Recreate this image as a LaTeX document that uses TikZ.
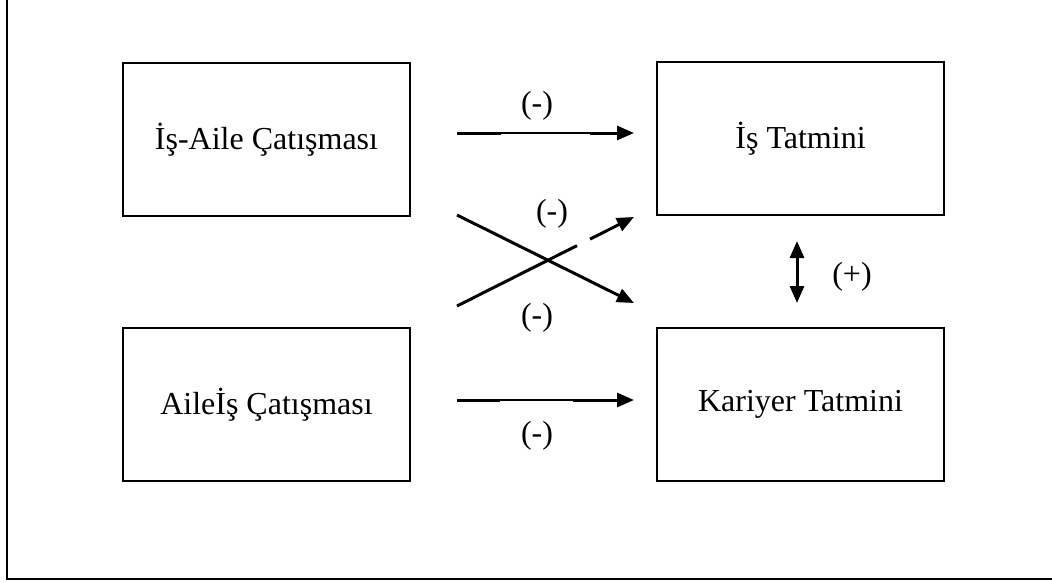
\documentclass[tikz,border=0pt]{standalone}
\usepackage{fontspec}
\setmainfont{Liberation Serif}
\usetikzlibrary{arrows.meta}
\tikzset{
  boxnode/.style={draw, line width=1.5pt, minimum width=287pt, minimum height=153pt, inner sep=0pt, font=\fontsize{32}{36}\selectfont},
  lbl/.style={inner sep=0pt, font=\fontsize{32}{36}\selectfont},
  thickln/.style={line width=3pt},
  thinln/.style={line width=1.3pt},
  tip/.style={-{Triangle[length=17pt,width=14pt]}},
  frameln/.style={line width=2.4pt}
}
\begin{document}
\begin{tikzpicture}[x=1pt,y=-1pt]
\useasboundingbox (0,0) rectangle (1052,582);
% outer frame (only left and bottom sides visible)
\draw[frameln] (7,-5) -- (7,579) -- (1060,579);
% boxes
\node[boxnode] (ia) at (266.5,139.5) {İş-Aile Çatışması};
\node[boxnode] (ai) at (266.5,404.5) {Aileİş Çatışması};
\node[boxnode] (it) at (800.5,138.5) {İş Tatmini};
\node[boxnode] (kt) at (800.5,404.5) {Kariyer Tatmini};
% coordinates for connectors
\coordinate (t1) at (457,133);
\coordinate (t2) at (501,133);
\coordinate (t3) at (590,133);
\coordinate (t4) at (634,133);
\coordinate (b1) at (457,400);
\coordinate (b2) at (500,400);
\coordinate (b3) at (573,400);
\coordinate (b4) at (634,400);
\coordinate (d1) at (457,215);
\coordinate (d2) at (634,303);
\coordinate (u1) at (457,306);
\coordinate (u2) at (577,245.6);
\coordinate (u3) at (590,239.1);
\coordinate (u4) at (634,217);
\coordinate (v1) at (797,241);
\coordinate (v2) at (797,303);
% top arrow
\draw[thickln] (t1) -- (t2);
\draw[thinln] (t2) -- (t3);
\draw[thickln,tip] (t3) -- (t4);
% bottom arrow
\draw[thickln] (b1) -- (b2);
\draw[thinln] (b2) -- (b3);
\draw[thickln,tip] (b3) -- (b4);
% crossing arrows
\draw[thickln,tip] (d1) -- (d2);
\draw[thickln] (u1) -- (u2);
\draw[thickln,tip] (u3) -- (u4);
% double arrow
\draw[thickln,{Triangle[length=17pt,width=14pt]}-{Triangle[length=17pt,width=14pt]}] (v1) -- (v2);
% labels
\node[lbl] (l1) at (537,106) {(-)};
\node[lbl] (l2) at (552,214) {(-)};
\node[lbl] (l3) at (537,318) {(-)};
\node[lbl] (l4) at (537,436) {(-)};
\node[lbl] (l5) at (852,277) {(+)};
\end{tikzpicture}
\end{document}
